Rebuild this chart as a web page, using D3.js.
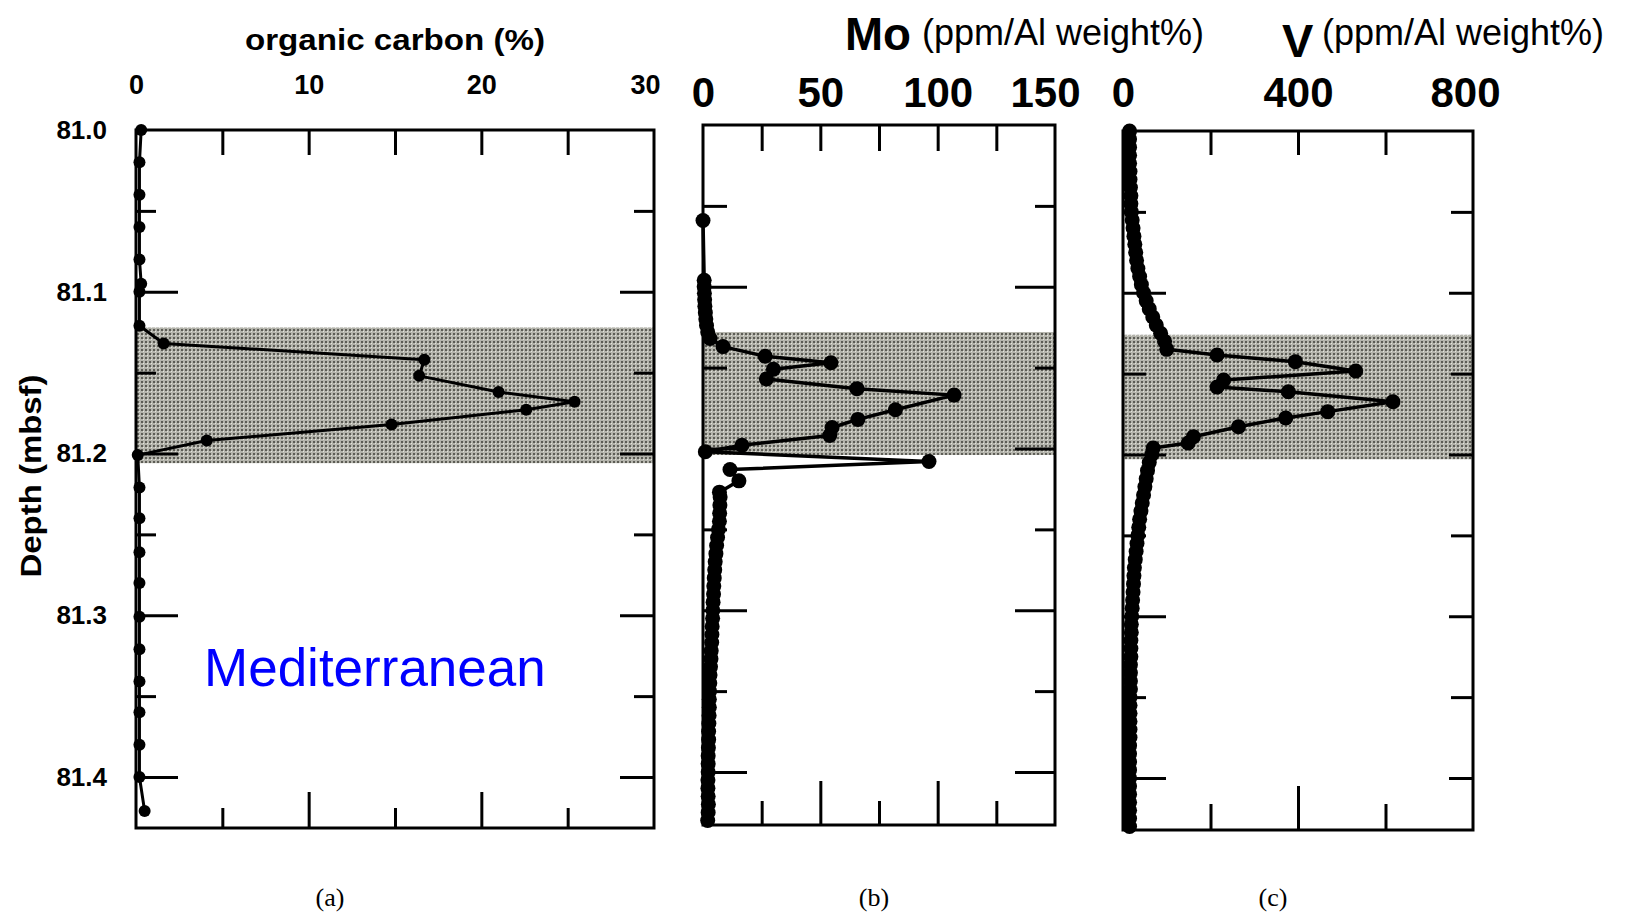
<!DOCTYPE html>
<html><head><meta charset="utf-8">
<script src="https://cdn.jsdelivr.net/npm/d3@7"></script>
<style>body{margin:0;background:#fff} svg{display:block}</style>
</head><body>
<svg id="chart" width="1625" height="916"></svg>
<script>
// ---------- data ----------
const depthMajor = [81.0, 81.1, 81.2, 81.3, 81.4];
const depthLabels = ["81.0", "81.1", "81.2", "81.3", "81.4"];
const depthMinor = [81.05, 81.15, 81.25, 81.35];

const tocMajor = [0, 10, 20, 30];
const tocMinor = [5, 15, 25];
const moMajor = [0, 50, 100, 150];
const moMinor = [25, 75, 125];
const vMajor = [0, 400, 800];
const vMinor = [200, 600];

// (a) organic carbon (%)
const tocDepth = [81.000, 81.020, 81.040, 81.060, 81.080, 81.095, 81.100, 81.121, 81.132, 81.142,
  81.152, 81.162, 81.168, 81.173, 81.182, 81.192, 81.201, 81.221, 81.240, 81.261,
  81.280, 81.301, 81.321, 81.341, 81.360, 81.380, 81.400, 81.421];
const tocValue = [0.3, 0.2, 0.2, 0.2, 0.2, 0.3, 0.2, 0.2, 1.6, 16.7,
  16.4, 21.0, 25.4, 22.6, 14.8, 4.1, 0.1, 0.2, 0.2, 0.2,
  0.2, 0.2, 0.2, 0.2, 0.2, 0.2, 0.2, 0.5];

// (b) Mo (ppm / Al weight%)
const moDepth = [81.059, 81.096, 81.100, 81.104, 81.108, 81.112, 81.116, 81.120, 81.124, 81.128,
  81.132, 81.137, 81.143, 81.147, 81.151, 81.157, 81.163, 81.167, 81.176, 81.182,
  81.187, 81.192, 81.198, 81.202, 81.208, 81.213, 81.220, 81.227,
  81.230, 81.235, 81.240, 81.245, 81.250, 81.255, 81.260, 81.265, 81.270, 81.275,
  81.280, 81.285, 81.290, 81.295, 81.300, 81.305, 81.310, 81.315, 81.320, 81.325,
  81.330, 81.335, 81.340, 81.345, 81.350, 81.355, 81.360, 81.365, 81.370, 81.375,
  81.380, 81.385, 81.390, 81.395, 81.400, 81.405, 81.410, 81.415, 81.420, 81.425, 81.430];
const moValue = [0, 0.5, 0.5, 0.6, 0.7, 0.8, 1.0, 1.2, 1.5, 2.0,
  3.0, 8.5, 26.5, 54.5, 30, 27, 65.6, 107, 82, 66,
  55, 54, 16.6, 1, 96.3, 11.5, 15.3, 7,
  7.3, 7.2, 7.1, 7.0, 6.6, 6.2, 5.8, 5.5, 5.2, 5.0,
  4.8, 4.6, 4.5, 4.3, 4.2, 4.1, 3.9, 3.8, 3.7, 3.5,
  3.4, 3.2, 3.0, 2.9, 2.8, 2.7, 2.7, 2.6, 2.5, 2.4,
  2.4, 2.3, 2.2, 2.2, 2.2, 2.1, 2.1, 2.2, 2.3, 2.2, 2.0];

// (c) V (ppm / Al weight%)
const vDepth = [81.000, 81.005, 81.010, 81.015, 81.020, 81.025, 81.030, 81.035, 81.040, 81.045,
  81.050, 81.055, 81.060, 81.065, 81.070, 81.075, 81.080, 81.085, 81.090, 81.095,
  81.100, 81.105, 81.110, 81.115, 81.120, 81.125, 81.130,
  81.135, 81.1385, 81.1426, 81.1484, 81.154, 81.1583, 81.1612, 81.1674, 81.1735, 81.1774,
  81.1828, 81.189, 81.1929, 81.196,
  81.200, 81.205, 81.210, 81.215, 81.220, 81.225, 81.230, 81.235, 81.240, 81.245,
  81.250, 81.255, 81.260, 81.265, 81.270, 81.275, 81.280, 81.285, 81.290, 81.295,
  81.300, 81.305, 81.310, 81.315, 81.320, 81.325, 81.330, 81.335, 81.340, 81.345,
  81.350, 81.355, 81.360, 81.365, 81.370, 81.375, 81.380, 81.385, 81.390, 81.395,
  81.400, 81.405, 81.410, 81.415, 81.420, 81.425, 81.430];
const vValue = [15, 15, 15, 15, 15, 16, 16, 17, 18, 18,
  19, 21, 23, 25, 27, 29, 31, 34, 38, 42,
  47, 53, 60, 68, 76, 86, 95,
  100, 215, 394, 532, 230, 215, 378, 617, 468, 372,
  264, 161, 149, 69,
  66, 60, 56, 53, 50, 47, 44, 41, 38, 36,
  34, 32, 30, 28, 26, 25, 24, 23, 22, 21,
  20, 19, 19, 18, 18, 18, 17, 17, 17, 17,
  16, 16, 16, 16, 16, 16, 15, 15, 15, 15,
  15, 15, 15, 15, 15, 15, 15];

// shaded interval (depth)
const bandTop = [81.122, 81.128, 81.126];
const bandBottom = [81.206, 81.204, 81.203];

const panelLetters = ["(a)", "(b)", "(c)"];

// ---------- drawing ----------
const svg = d3.select("#chart");
svg.append("rect").attr("width", 1625).attr("height", 916).attr("fill", "#fff");
const defs = svg.append("defs");
const pat = defs.append("pattern").attr("id", "stip").attr("patternUnits", "userSpaceOnUse")
  .attr("width", 4).attr("height", 4);
pat.append("rect").attr("width", 4).attr("height", 4).attr("fill", "#b4b4ac");
pat.append("rect").attr("x", 1).attr("y", 1).attr("width", 2).attr("height", 2).attr("fill", "#5c5c55");
pat.append("rect").attr("x", 3).attr("y", 3).attr("width", 1).attr("height", 1).attr("fill", "#e4e4dc");

const SANS = "'Liberation Sans', Arial, Helvetica, sans-serif";

const panels = [
  { x0: 136, x1: 654, top: 130, bottom: 828, domain: [0, 30], major: tocMajor, minor: tocMinor,
    depth: tocDepth, value: tocValue, r: 6, lw: 3, tickFont: 27, labelY: 94, lastDx: -9,
    leftMaj: 42, leftMin: 20, rightMaj: 34, rightMin: 20, botMaj: 36, botMin: 20, topLen: 25, yLabels: true },
  { x0: 703, x1: 1055, top: 125, bottom: 825, domain: [0, 150], major: moMajor, minor: moMinor,
    depth: moDepth, value: moValue, r: 7.5, lw: 3.5, tickFont: 42, labelY: 107, lastDx: -10,
    leftMaj: 44, leftMin: 24, rightMaj: 40, rightMin: 20, botMaj: 44, botMin: 24, topLen: 26, yLabels: false },
  { x0: 1123, x1: 1473, top: 131, bottom: 830, domain: [0, 800], major: vMajor, minor: vMinor,
    depth: vDepth, value: vValue, r: 7.5, lw: 3.5, tickFont: 42, labelY: 107, lastDx: -8,
    leftMaj: 43, leftMin: 23, rightMaj: 24, rightMin: 22, botMaj: 44, botMin: 26, topLen: 24, yLabels: false }
];

function styleTicks(sel) {
  sel.select(".domain").remove();
  sel.selectAll("line").attr("stroke", "#000").attr("stroke-width", 3);
  sel.selectAll("text").remove();
}

panels.forEach((p, i) => {
  const x = d3.scaleLinear().domain(p.domain).range([p.x0, p.x1]);
  const y = d3.scaleLinear().domain([81.0, 81.4]).range([p.top, p.top + 647]);
  const g = svg.append("g");

  // shaded interval
  g.append("rect")
    .attr("x", p.x0).attr("y", y(bandTop[i]))
    .attr("width", p.x1 - p.x0).attr("height", y(bandBottom[i]) - y(bandTop[i]))
    .attr("fill", "url(#stip)");

  const innerMajor = p.major.filter(v => v > p.domain[0] && v < p.domain[1]);
  const allX = innerMajor.concat(p.minor);
  const innerDepth = depthMajor.filter(d => d > 81.0);

  g.append("g").attr("transform", `translate(0,${p.top})`)
    .call(d3.axisTop(x).tickValues(allX).tickSize(-p.topLen)).call(styleTicks);
  g.append("g").attr("transform", `translate(0,${p.bottom})`)
    .call(d3.axisBottom(x).tickValues(innerMajor).tickSize(-p.botMaj)).call(styleTicks);
  g.append("g").attr("transform", `translate(0,${p.bottom})`)
    .call(d3.axisBottom(x).tickValues(p.minor).tickSize(-p.botMin)).call(styleTicks);
  g.append("g").attr("transform", `translate(${p.x0},0)`)
    .call(d3.axisLeft(y).tickValues(innerDepth).tickSize(-p.leftMaj)).call(styleTicks);
  g.append("g").attr("transform", `translate(${p.x0},0)`)
    .call(d3.axisLeft(y).tickValues(depthMinor).tickSize(-p.leftMin)).call(styleTicks);
  g.append("g").attr("transform", `translate(${p.x1},0)`)
    .call(d3.axisRight(y).tickValues(innerDepth).tickSize(-p.rightMaj)).call(styleTicks);
  g.append("g").attr("transform", `translate(${p.x1},0)`)
    .call(d3.axisRight(y).tickValues(depthMinor).tickSize(-p.rightMin)).call(styleTicks);

  g.append("rect").attr("x", p.x0).attr("y", p.top)
    .attr("width", p.x1 - p.x0).attr("height", p.bottom - p.top)
    .attr("fill", "none").attr("stroke", "#000").attr("stroke-width", 3);

  // top tick labels
  const lab = g.append("g").attr("transform", `translate(0,${p.labelY})`)
    .call(d3.axisTop(x).tickValues(p.major).tickSize(0).tickPadding(0).tickFormat(d3.format("d")));
  lab.select(".domain").remove();
  lab.attr("font-family", SANS).attr("font-size", p.tickFont).attr("font-weight", "bold");
  lab.selectAll("text").attr("fill", "#000")
    .attr("dx", (d, k) => k === p.major.length - 1 ? p.lastDx : 0);

  if (p.yLabels) {
    const yl = g.append("g").attr("transform", `translate(107,0)`)
      .call(d3.axisLeft(y).tickValues(depthMajor).tickSize(0).tickPadding(0)
        .tickFormat((d, k) => depthLabels[k]));
    yl.select(".domain").remove();
    yl.attr("font-family", SANS).attr("font-size", 26).attr("font-weight", "bold");
    yl.selectAll("text").attr("fill", "#000");
  }

  const pts = p.depth.map((d, k) => [p.value[k], d]);
  g.append("path").datum(pts)
    .attr("d", d3.line().x(d => x(d[0])).y(d => y(d[1])))
    .attr("fill", "none").attr("stroke", "#000").attr("stroke-width", p.lw).attr("stroke-linejoin", "round");
  g.selectAll("circle.pt").data(pts).join("circle").attr("class", "pt")
    .attr("cx", d => x(d[0])).attr("cy", d => y(d[1])).attr("r", p.r).attr("fill", "#000");

  svg.append("text").attr("x", [330, 874, 1273][i]).attr("y", 906)
    .attr("text-anchor", "middle").attr("font-family", "'Liberation Serif', 'Times New Roman', serif")
    .attr("font-size", 26).text(panelLetters[i]);
});

svg.append("text").attr("x", 395).attr("y", 50).attr("text-anchor", "middle")
  .attr("font-family", SANS).attr("font-weight", "bold").attr("font-size", 30)
  .attr("textLength", 300).attr("lengthAdjust", "spacingAndGlyphs")
  .text("organic carbon (%)");

svg.append("text").attr("transform", "translate(41,476) rotate(-90)").attr("text-anchor", "middle")
  .attr("font-family", SANS).attr("font-weight", "bold").attr("font-size", 30)
  .attr("textLength", 203).attr("lengthAdjust", "spacingAndGlyphs")
  .text("Depth (mbsf)");

svg.append("text").attr("x", 845).attr("y", 50)
  .attr("font-family", SANS).attr("font-weight", "bold").attr("font-size", 47)
  .attr("textLength", 66).attr("lengthAdjust", "spacingAndGlyphs").text("Mo");
svg.append("text").attr("x", 922).attr("y", 45)
  .attr("font-family", SANS).attr("font-size", 36).text("(ppm/Al weight%)");

svg.append("text").attr("x", 1282).attr("y", 57)
  .attr("font-family", SANS).attr("font-weight", "bold").attr("font-size", 47).text("V");
svg.append("text").attr("x", 1322).attr("y", 45)
  .attr("font-family", SANS).attr("font-size", 36).text("(ppm/Al weight%)");

svg.append("text").attr("x", 204).attr("y", 686)
  .attr("font-family", SANS).attr("font-size", 53).attr("fill", "#0000ff").text("Mediterranean");
</script>
</body></html>
